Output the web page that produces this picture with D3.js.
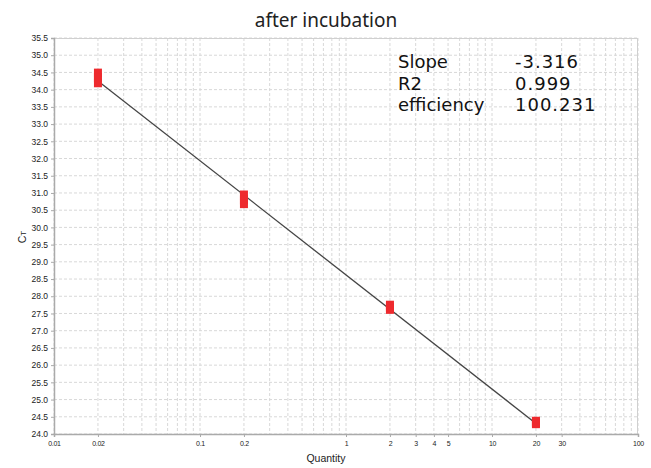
<!DOCTYPE html>
<html><head><meta charset="utf-8">
<script src="https://cdn.jsdelivr.net/npm/d3@7"></script>
<style>body{margin:0;background:#fff}svg{display:block}</style>
</head><body><svg id="c" width="651" height="468"></svg>
<script>
const quantities = [0.02, 0.02, 0.02, 0.2, 0.2, 0.2, 2, 2, 2, 20, 20, 20];
const ctValues   = [34.48, 34.35, 34.2, 30.94, 30.8, 30.69, 27.74, 27.68, 27.62, 24.37, 24.33, 24.3];
const fitSlope = -3.316;
const fitIntercept = 28.62;
const fitRange = [0.02, 20];
const xTickLabels = [0.01, 0.02, 0.1, 0.2, 1, 2, 3, 4, 5, 10, 20, 30, 100];
const statNames = ["Slope", "R2", "efficiency"];
const statValues = ["-3.316", "0.999", "100.231"];

const svg = d3.select("#c");
const L = 54, R = 638, T = 38, B = 434;
const x = d3.scaleLog().domain([0.01, 100]).range([L, R]);
const y = d3.scaleLinear().domain([24, 35.5]).range([B, T]);

// grid
const minor = [];
for (let e = -2; e < 2; e++) for (let m = 1; m < 10; m++) minor.push(m * Math.pow(10, e));
minor.push(100);
svg.append("g").selectAll("line").data(minor).join("line")
  .attr("x1", d => x(d)).attr("x2", d => x(d)).attr("y1", T).attr("y2", B)
  .attr("stroke", "#d8d8d8").attr("stroke-dasharray", "3,2").attr("stroke-width", 1);
const yTicks = d3.range(24, 35.51, 0.5);
svg.append("g").selectAll("line").data(yTicks).join("line")
  .attr("x1", L).attr("x2", R).attr("y1", d => y(d)).attr("y2", d => y(d))
  .attr("stroke", "#d8d8d8").attr("stroke-dasharray", "3,2").attr("stroke-width", 1);

// border
svg.append("line").attr("x1", L).attr("x2", R).attr("y1", T + 0.5).attr("y2", T + 0.5).attr("stroke", "#d0d0d0");
svg.append("line").attr("x1", R - 0.5).attr("x2", R - 0.5).attr("y1", T).attr("y2", B).attr("stroke", "#d0d0d0");

// axes
const yAxis = d3.axisLeft(y).tickValues(yTicks).tickFormat(d3.format(".1f")).tickSize(3).tickPadding(3);
const gy = svg.append("g").attr("transform", `translate(${L},0)`).call(yAxis);
gy.select(".domain").attr("stroke", "#aaa").attr("stroke-width", 1.5);
gy.selectAll(".tick line").attr("stroke", "#aaa");
gy.selectAll("text").attr("font-family", "Liberation Sans, Arial, sans-serif").attr("font-size", 8.5).attr("fill", "#222");

const xAxis = d3.axisBottom(x).tickValues(xTickLabels).tickFormat(d => String(d)).tickSize(3).tickPadding(4);
const gx = svg.append("g").attr("transform", `translate(0,${B})`).call(xAxis);
gx.select(".domain").attr("stroke", "#aaa").attr("stroke-width", 1.5);
gx.selectAll(".tick line").attr("stroke", "#aaa");
gx.selectAll("text").attr("font-family", "Liberation Sans, Arial, sans-serif").attr("font-size", 7).attr("fill", "#222").attr("letter-spacing", "-0.3");

// fit line
svg.append("line")
  .attr("x1", x(fitRange[0])).attr("y1", y(fitIntercept + fitSlope * Math.log10(fitRange[0])))
  .attr("x2", x(fitRange[1])).attr("y2", y(fitIntercept + fitSlope * Math.log10(fitRange[1])))
  .attr("stroke", "#444").attr("stroke-width", 1.3);

// points
const pts = quantities.map((q, i) => ({q, v: ctValues[i]}));
svg.append("g").selectAll("rect").data(pts).join("rect")
  .attr("x", d => x(d.q) - 4).attr("y", d => y(d.v) - 4.5)
  .attr("width", 8).attr("height", 9).attr("fill", "#ee2a2e");

// titles
svg.append("text").attr("x", 326).attr("y", 27).attr("text-anchor", "middle")
  .attr("font-family", "Noto Sans, sans-serif").attr("font-size", 19).attr("fill", "#222").text("after incubation");
svg.append("text").attr("x", 326).attr("y", 462).attr("text-anchor", "middle")
  .attr("font-family", "Liberation Sans, Arial, sans-serif").attr("font-size", 10.5).attr("fill", "#222").text("Quantity");
const yl = svg.append("text").attr("transform", "translate(26,237) rotate(-90)").attr("text-anchor", "middle")
  .attr("font-family", "Liberation Sans, Arial, sans-serif").attr("font-size", 10.5).attr("fill", "#222");
yl.append("tspan").text("C");
yl.append("tspan").attr("font-size", 8).text("T");

// stats
const sg = svg.append("g").attr("font-family", "DejaVu Sans, sans-serif").attr("font-size", 18).attr("fill", "#111");
sg.selectAll("text.n").data(statNames).join("text").attr("class", "n")
  .attr("x", 398).attr("y", (d, i) => 68 + i * 21.5).text(d => d);
sg.selectAll("text.v").data(statValues).join("text").attr("class", "v")
  .attr("x", 515).attr("y", (d, i) => 68 + i * 21.5).attr("letter-spacing", 1).text(d => d);
</script></body></html>
